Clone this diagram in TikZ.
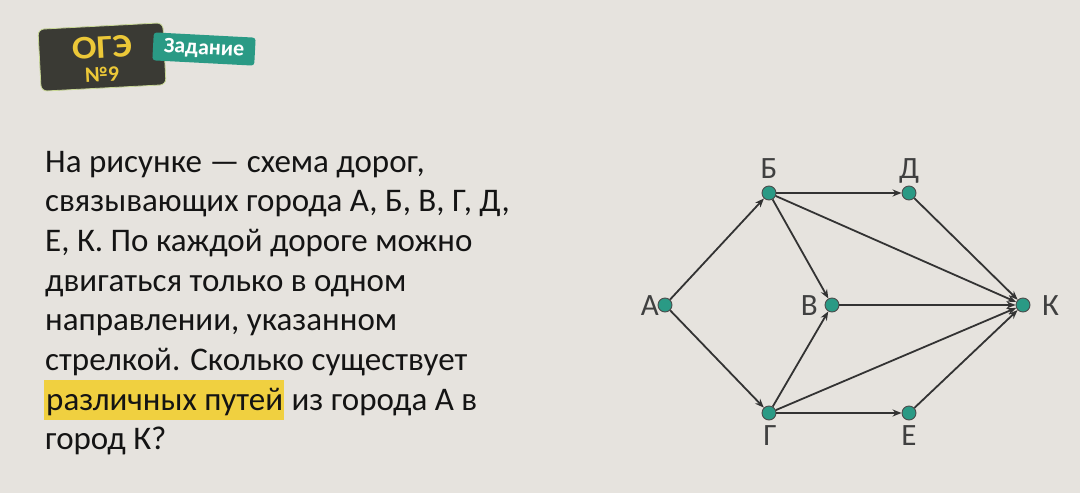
\documentclass[tikz,border=0pt]{standalone}
\usepackage{fontspec}
\setmainfont{Carlito}
\usetikzlibrary{arrows.meta}
\definecolor{bg}{RGB}{230,227,222}
\definecolor{hl}{RGB}{240,208,64}
\definecolor{teal}{RGB}{42,154,133}
\definecolor{dark}{RGB}{58,58,52}
\definecolor{gold}{RGB}{236,200,56}
\definecolor{ink}{RGB}{20,20,20}
\definecolor{edge}{RGB}{51,51,51}
\tikzset{
  txt/.style={anchor=base west, inner sep=0pt, text=ink, font=\fontsize{33}{39.7}\selectfont},
  city/.style={circle, fill=teal, draw=black!70, line width=0.9pt, minimum size=14pt, inner sep=0pt},
  lbl/.style={inner sep=0pt, text=black!75, font=\fontsize{31}{36}\selectfont},
  road/.style={draw=edge, line width=1.8pt, -{Stealth[length=9pt,width=7pt]}},
}
\newcommand{\hlword}[1]{{\setlength{\fboxsep}{0pt}\colorbox{hl}{\rule[-10pt]{0pt}{40pt}\kern2pt#1\kern1pt}}}
\begin{document}
\begin{tikzpicture}[x=1pt,y=-1pt]
\fill[bg] (0,0) rectangle (1080,493);
\useasboundingbox (0,0) rectangle (1080,493);
% badge
\node[rotate=3, fill=dark, draw={rgb,255:red,200;green,215;blue,150}, line width=0.8pt, rounded corners=6pt, minimum width=125pt, minimum height=62pt] (badge) at (102,57) {};
\node[rotate=3, text=gold, font=\fontsize{33}{33}\bfseries\selectfont, inner sep=0pt, text height=20pt, text depth=0pt, xscale=1.1] (oge) at (102,48) {ОГЭ};
\node[rotate=3, text=gold, font=\fontsize{22}{22}\bfseries\selectfont, inner sep=0pt, text height=13pt, text depth=0pt] (num) at (102,75) {№9};
\node[rotate=-3, fill=teal, rounded corners=3pt, minimum width=102pt, minimum height=28pt, inner sep=0pt, text=white, font=\fontsize{22}{22}\bfseries\selectfont] (task) at (204,49) {Задание};
% text
\node[txt] (t1) at (45,172) {На рисунке — схема дорог,};
\node[txt] (t2) at (45,211.7) {связывающих города А, Б, В, Г, Д,};
\node[txt] (t3) at (45,251.4) {Е, К. По каждой дороге можно};
\node[txt] (t4) at (45,291.1) {двигаться только в одном};
\node[txt] (t5) at (45,330.8) {направлении, указанном};
\node[txt] (t6) at (45,370.5) {стрелкой. Сколько существует};
\node[txt] (t7) at (44,410.2) {\hlword{различных путей} из города А в};
\node[txt] (t8) at (45,449.9) {город К?};
% graph
\node[city] (A) at (665,305) {};
\node[city] (B) at (769,193) {};
\node[city] (D) at (909,193) {};
\node[city] (V) at (832,305) {};
\node[city] (K) at (1023,305) {};
\node[city] (G) at (769,413) {};
\node[city] (E) at (909,413) {};
\node[lbl, anchor=base] (lB) at (769,178) {Б};
\node[lbl, anchor=base] (lD) at (909,178) {Д};
\node[lbl, anchor=base east] (lA) at (659,315) {А};
\node[lbl, anchor=base east] (lV) at (818,315) {В};
\node[lbl, anchor=base west] (lK) at (1042,315) {К};
\node[lbl, anchor=base] (lG) at (770,445) {Г};
\node[lbl, anchor=base] (lE) at (909,445) {Е};
\draw[road] (A) -- (B);
\draw[road] (A) -- (G);
\draw[road] (B) -- (D);
\draw[road] (B) -- (V);
\draw[road] (B) -- (K);
\draw[road] (D) -- (K);
\draw[road] (V) -- (K);
\draw[road] (G) -- (V);
\draw[road] (G) -- (K);
\draw[road] (G) -- (E);
\draw[road] (E) -- (K);
\end{tikzpicture}
\end{document}
